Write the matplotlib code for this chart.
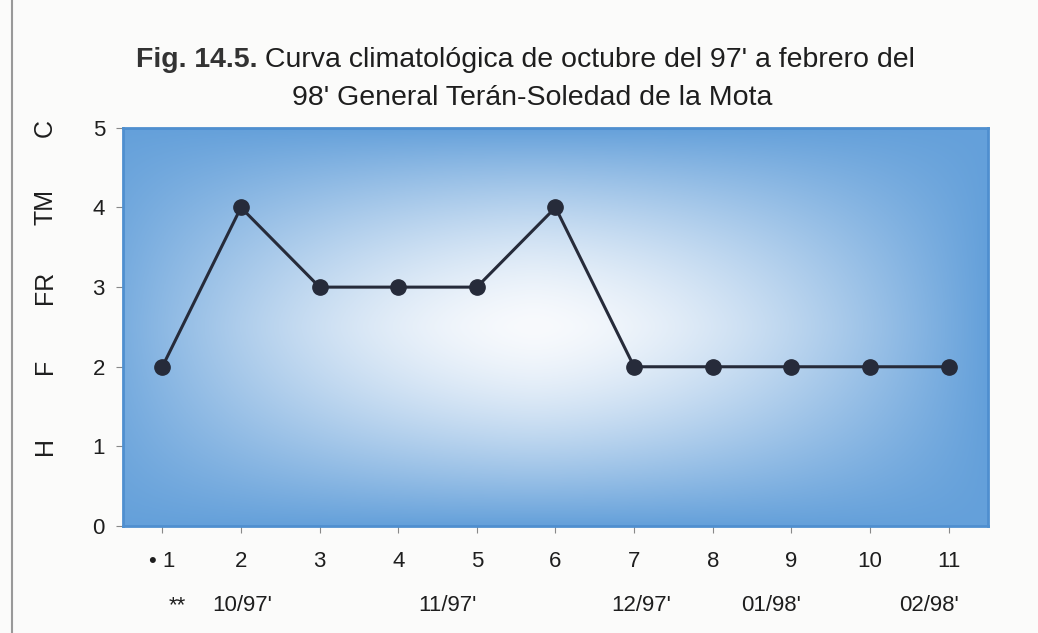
import matplotlib.pyplot as plt
import numpy as np

plt.rcParams['font.family'] = ['Liberation Sans', 'DejaVu Sans']

# data
punto = [1, 2, 3, 4, 5, 6, 7, 8, 9, 10, 11]
valor = [2, 4, 3, 3, 3, 4, 2, 2, 2, 2, 2]
etiq_x = ['\u2022 1', '2', '3', '4', '5', '6', '7', '8', '9', '10', '11']
fechas_pos = [1.19, 2.02, 4.63, 7.09, 8.74, 10.75]
fechas = ['**', "10/97'", "11/97'", "12/97'", "01/98'", "02/98'"]
clases_pos = [1, 2, 3, 4, 5]
clases = ['H', 'F', 'FR', 'TM', 'C']

fig = plt.figure(figsize=(10.38, 6.33), dpi=100)
fig.patch.set_facecolor('#fbfbfa')
ax = fig.add_axes([0.1185, 0.169, 0.8333, 0.629])

# gradient: blue edges, white centre
gx = np.linspace(-1, 1, 400)
gy = np.linspace(-1, 1, 300)
X, Y = np.meshgrid(gx, gy)
cx, cy = -0.05, 0.0
ux = np.clip(np.abs(X - cx) / (1 + abs(cx)), 0, 1)
uy = np.clip(np.abs(Y - cy) / (1 + abs(cy)), 0, 1)
d = 1 - (1 - ux ** 1.6) * (1 - uy ** 1.6)
d = np.clip(d, 0, 1)
edge = np.array([100, 160, 218]) / 255
centre = np.array([248, 250, 253]) / 255
img = centre[None, None, :] * (1 - d[..., None]) + edge[None, None, :] * d[..., None]
ax.imshow(img, extent=[0.5, 11.5, 0, 5], aspect='auto', origin='lower', zorder=0)

ax.plot(punto, valor, '-o', color='#262b3a', lw=2.2, markersize=11, zorder=3)

ax.set_xlim(0.5, 11.5)
ax.set_ylim(0, 5)
ax.set_xticks(punto)
ax.set_xticklabels(etiq_x)
ax.set_yticks(range(0, 6))
for s in ax.spines.values():
    s.set_color('#4f8fcf')
    s.set_linewidth(2)
ax.tick_params(axis='both', labelsize=16, colors='#888888', length=5, labelcolor='#1e1e1e')
ax.tick_params(axis='x', pad=13)
ax.tick_params(axis='y', pad=8)

# second row of x labels
tr = ax.get_xaxis_transform()
for p, f in zip(fechas_pos, fechas):
    ax.text(p, -0.2, f, transform=tr, ha='center', va='center', fontsize=16, color='#1e1e1e')

# climate classes on the left
ty = ax.get_yaxis_transform()
for p, c in zip(clases_pos, clases):
    ax.text(-0.09, p, c, transform=ty, ha='center', va='center', rotation=90,
            fontsize=18, color='#1e1e1e')

# title
t1 = fig.text(0.131, 0.906, 'Fig. 14.5.', fontsize=20.5, fontweight='bold', color='#333333',
              ha='left', va='center')
ax.annotate(" Curva climatológica de octubre del 97' a febrero del", xy=(1, 0.5),
            xycoords=t1, ha='left', va='center', fontsize=20.5, color='#1e1e1e')
fig.text(0.513, 0.845, "98' General Terán-Soledad de la Mota", fontsize=20.5,
         ha='center', va='center', color='#1e1e1e')

# page edge line at left
fig.add_artist(plt.Line2D([0.012, 0.012], [0, 1], color='#999999', lw=1.5))

fig.savefig('out.png', dpi=100, facecolor=fig.get_facecolor())
